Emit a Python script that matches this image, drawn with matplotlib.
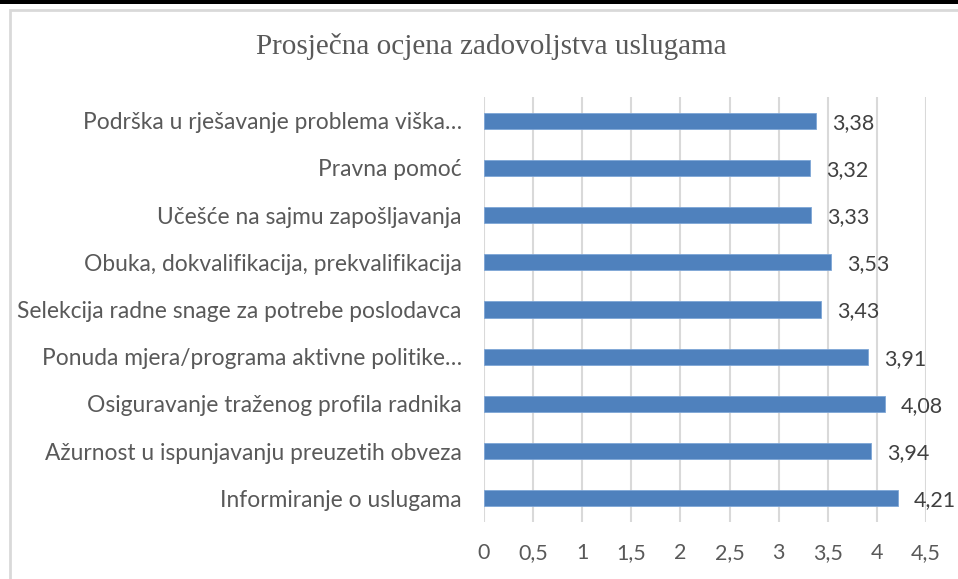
import matplotlib.pyplot as plt
from matplotlib.patches import Rectangle

# categories bottom -> top
categories = [
    'Informiranje o uslugama',
    'Ažurnost u ispunjavanju preuzetih obveza',
    'Osiguravanje traženog profila radnika',
    'Ponuda mjera/programa aktivne politike…',
    'Selekcija radne snage za potrebe poslodavca',
    'Obuka, dokvalifikacija, prekvalifikacija',
    'Učešće na sajmu zapošljavanja',
    'Pravna pomoć',
    'Podrška u rješavanje problema viška…',
]
values = [4.21, 3.94, 4.08, 3.91, 3.43, 3.53, 3.33, 3.32, 3.38]
xticks = [0, 0.5, 1, 1.5, 2, 2.5, 3, 3.5, 4, 4.5]
xtick_labels = ['0', '0,5', '1', '1,5', '2', '2,5', '3', '3,5', '4', '4,5']

W, H = 958, 579
fig = plt.figure(figsize=(W / 100, H / 100), dpi=100)
fig.patch.set_facecolor('white')

# black band on top and grey chart frame
fig.add_artist(Rectangle((0, 1 - 4 / H), 1, 4 / H, transform=fig.transFigure,
                         facecolor='black', edgecolor='none'))
fig.add_artist(Rectangle((10 / W, -0.1), 1.2, 1 - 10 / H + 0.1, transform=fig.transFigure,
                         facecolor='none', edgecolor='#d9d9d9', lw=2))

ax = fig.add_axes([484 / W, 1 - 522 / H, (926 - 484) / W, (522 - 97) / H])
ypos = list(range(len(categories)))
bars = ax.barh(ypos, values, height=0.34, color='#4f81bd', edgecolor='#7ea6d6',
               linewidth=0.6, zorder=3)

ax.set_xlim(0, 4.5)
ax.set_ylim(-0.5, len(categories) - 0.5)
ax.set_xticks(xticks)
ax.set_xticklabels(xtick_labels)
ax.set_yticks(ypos)
ax.set_yticklabels(categories)
ax.grid(axis='x', color='#d9d9d9', lw=1.5, zorder=0)
for s in ax.spines.values():
    s.set_visible(False)
ax.tick_params(axis='both', length=0, labelcolor='#595959')
ax.tick_params(axis='x', pad=15, labelsize=15.5)
ax.tick_params(axis='y', pad=16, labelsize=16.4)
for lab in ax.get_xticklabels() + ax.get_yticklabels():
    lab.set_fontfamily('Lato')

for b, v in zip(bars, values):
    ax.annotate(f'{v:.2f}'.replace('.', ','), (v, b.get_y() + b.get_height() / 2),
                xytext=(11.5, -1.5), textcoords='offset points', ha='left', va='center',
                fontsize=15.5, color='#404040', family='Lato')

fig.text(491 / W, 1 - 47 / H, 'Prosječna ocjena zadovoljstva uslugama', ha='center',
         va='center', fontsize=21, color='#595959', family='Liberation Serif')

fig.savefig('out.png', dpi=100)
